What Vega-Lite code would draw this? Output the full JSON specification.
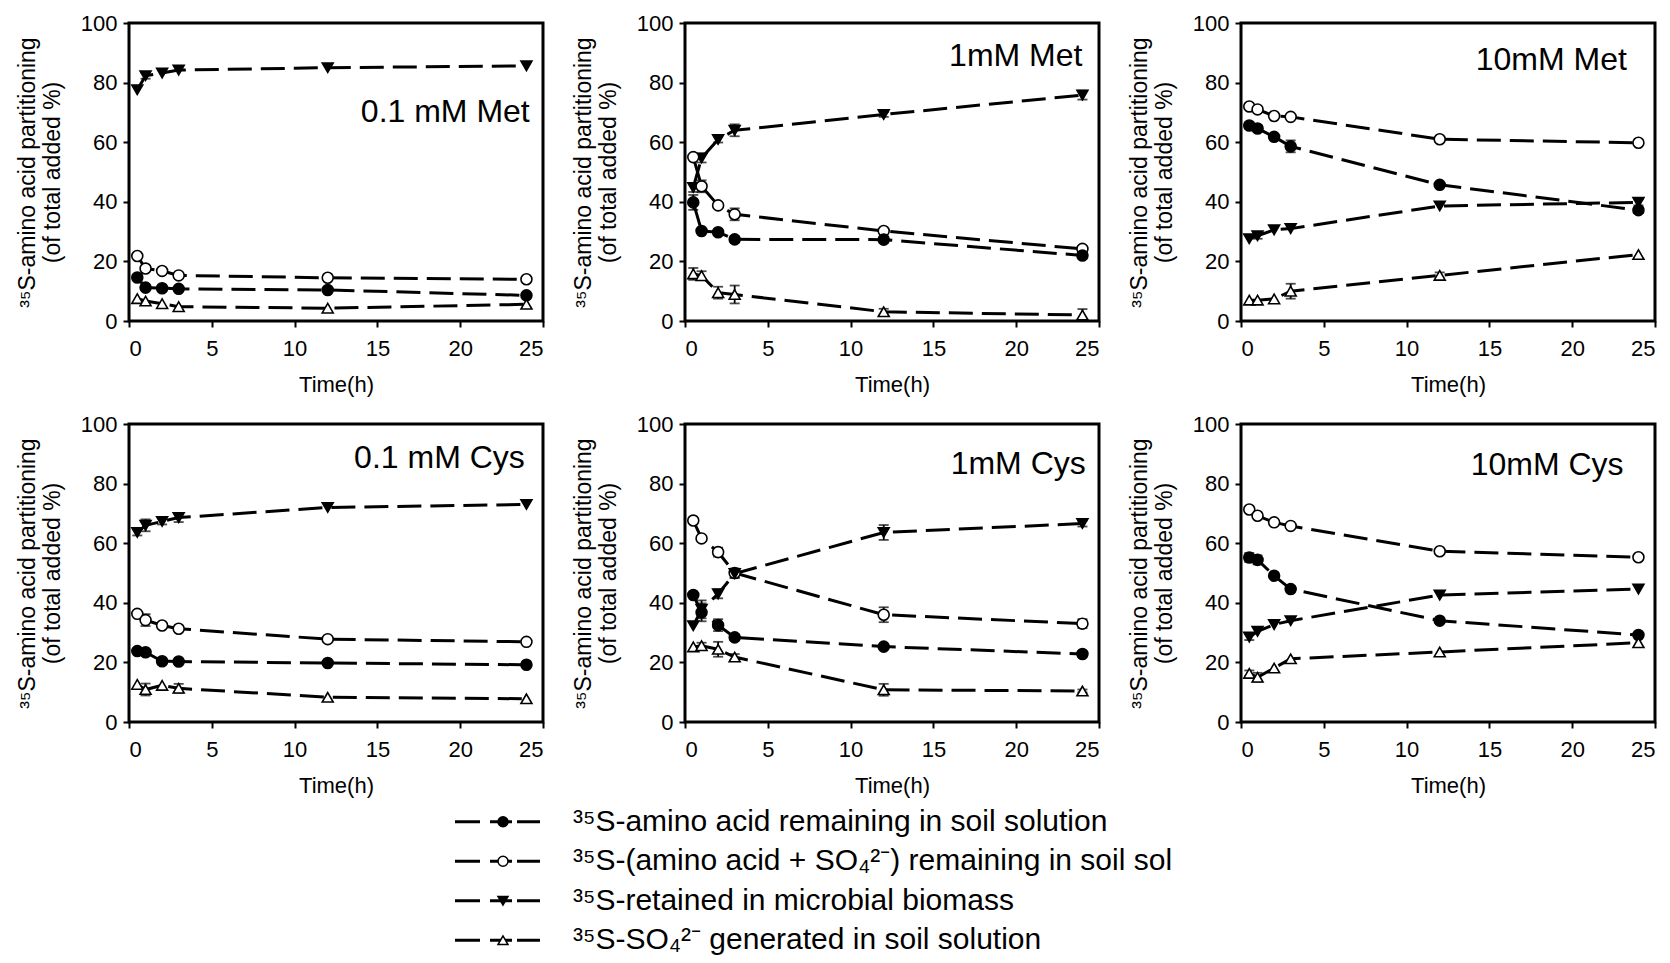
{
  "$schema": "https://vega.github.io/schema/vega-lite/v6.json",
  "background": "white",
  "padding": {"left": 14, "top": 10, "right": 0, "bottom": 0},
  "spacing": 4,
  "config": {
    "font": "Liberation Sans",
    "view": {"stroke": "black", "strokeWidth": 3},
    "header": {"labels": false, "title": null, "labelPadding": 0, "titlePadding": 0},
    "headerFacet": {"labels": false, "title": null, "labelPadding": 0, "titlePadding": 0},
    "axis": {
      "domain": false,
      "grid": false,
      "ticks": true,
      "tickColor": "black",
      "tickWidth": 2,
      "tickSize": 6,
      "labelFontSize": 22,
      "labelColor": "black",
      "titleColor": "black",
      "titleFontWeight": "normal"
    }
  },
  "vconcat": [
    {
      "data": {
        "values": [
          {"panel": "0.1 mM Met", "series": "bio", "t": 0.5, "v": 77.6, "err": 0},
          {"panel": "0.1 mM Met", "series": "bio", "t": 1, "v": 82.3, "err": 1},
          {"panel": "0.1 mM Met", "series": "bio", "t": 2, "v": 83.2, "err": 0},
          {"panel": "0.1 mM Met", "series": "bio", "t": 3, "v": 84.2, "err": 0},
          {"panel": "0.1 mM Met", "series": "bio", "t": 12, "v": 85.0, "err": 0},
          {"panel": "0.1 mM Met", "series": "bio", "t": 24, "v": 85.6, "err": 0},
          {"panel": "0.1 mM Met", "series": "tot", "t": 0.5, "v": 21.8, "err": 0},
          {"panel": "0.1 mM Met", "series": "tot", "t": 1, "v": 17.6, "err": 0},
          {"panel": "0.1 mM Met", "series": "tot", "t": 2, "v": 16.8, "err": 0},
          {"panel": "0.1 mM Met", "series": "tot", "t": 3, "v": 15.3, "err": 0},
          {"panel": "0.1 mM Met", "series": "tot", "t": 12, "v": 14.5, "err": 0},
          {"panel": "0.1 mM Met", "series": "tot", "t": 24, "v": 14.0, "err": 0},
          {"panel": "0.1 mM Met", "series": "aa", "t": 0.5, "v": 14.6, "err": 0},
          {"panel": "0.1 mM Met", "series": "aa", "t": 1, "v": 11.2, "err": 0},
          {"panel": "0.1 mM Met", "series": "aa", "t": 2, "v": 11.0, "err": 0},
          {"panel": "0.1 mM Met", "series": "aa", "t": 3, "v": 10.8, "err": 0},
          {"panel": "0.1 mM Met", "series": "aa", "t": 12, "v": 10.4, "err": 0},
          {"panel": "0.1 mM Met", "series": "aa", "t": 24, "v": 8.6, "err": 0},
          {"panel": "0.1 mM Met", "series": "so4", "t": 0.5, "v": 7.5, "err": 0},
          {"panel": "0.1 mM Met", "series": "so4", "t": 1, "v": 6.7, "err": 0},
          {"panel": "0.1 mM Met", "series": "so4", "t": 2, "v": 5.8, "err": 0},
          {"panel": "0.1 mM Met", "series": "so4", "t": 3, "v": 4.8, "err": 0},
          {"panel": "0.1 mM Met", "series": "so4", "t": 12, "v": 4.3, "err": 0},
          {"panel": "0.1 mM Met", "series": "so4", "t": 24, "v": 5.6, "err": 0},

          {"panel": "1mM Met", "series": "bio", "t": 0.5, "v": 44.8, "err": 1.5},
          {"panel": "1mM Met", "series": "bio", "t": 1, "v": 54.7, "err": 1.5},
          {"panel": "1mM Met", "series": "bio", "t": 2, "v": 60.9, "err": 1},
          {"panel": "1mM Met", "series": "bio", "t": 3, "v": 64.0, "err": 2},
          {"panel": "1mM Met", "series": "bio", "t": 12, "v": 69.3, "err": 0.8},
          {"panel": "1mM Met", "series": "bio", "t": 24, "v": 75.8, "err": 1.5},
          {"panel": "1mM Met", "series": "tot", "t": 0.5, "v": 55.0, "err": 0},
          {"panel": "1mM Met", "series": "tot", "t": 1, "v": 45.2, "err": 2},
          {"panel": "1mM Met", "series": "tot", "t": 2, "v": 38.8, "err": 0},
          {"panel": "1mM Met", "series": "tot", "t": 3, "v": 35.8, "err": 2},
          {"panel": "1mM Met", "series": "tot", "t": 12, "v": 30.2, "err": 0},
          {"panel": "1mM Met", "series": "tot", "t": 24, "v": 24.2, "err": 1},
          {"panel": "1mM Met", "series": "aa", "t": 0.5, "v": 39.8, "err": 2.5},
          {"panel": "1mM Met", "series": "aa", "t": 1, "v": 30.2, "err": 0},
          {"panel": "1mM Met", "series": "aa", "t": 2, "v": 29.8, "err": 0},
          {"panel": "1mM Met", "series": "aa", "t": 3, "v": 27.4, "err": 1},
          {"panel": "1mM Met", "series": "aa", "t": 12, "v": 27.3, "err": 1},
          {"panel": "1mM Met", "series": "aa", "t": 24, "v": 22.0, "err": 1},
          {"panel": "1mM Met", "series": "so4", "t": 0.5, "v": 15.8, "err": 2},
          {"panel": "1mM Met", "series": "so4", "t": 1, "v": 15.2, "err": 1.5},
          {"panel": "1mM Met", "series": "so4", "t": 2, "v": 9.5, "err": 2},
          {"panel": "1mM Met", "series": "so4", "t": 3, "v": 8.9, "err": 3},
          {"panel": "1mM Met", "series": "so4", "t": 12, "v": 3.1, "err": 1},
          {"panel": "1mM Met", "series": "so4", "t": 24, "v": 2.0, "err": 2},

          {"panel": "10mM Met", "series": "tot", "t": 0.5, "v": 72.0, "err": 0},
          {"panel": "10mM Met", "series": "tot", "t": 1, "v": 71.0, "err": 0},
          {"panel": "10mM Met", "series": "tot", "t": 2, "v": 68.8, "err": 0},
          {"panel": "10mM Met", "series": "tot", "t": 3, "v": 68.5, "err": 0},
          {"panel": "10mM Met", "series": "tot", "t": 12, "v": 61.0, "err": 0},
          {"panel": "10mM Met", "series": "tot", "t": 24, "v": 59.8, "err": 0},
          {"panel": "10mM Met", "series": "aa", "t": 0.5, "v": 65.6, "err": 1},
          {"panel": "10mM Met", "series": "aa", "t": 1, "v": 64.6, "err": 1},
          {"panel": "10mM Met", "series": "aa", "t": 2, "v": 61.8, "err": 0.8},
          {"panel": "10mM Met", "series": "aa", "t": 3, "v": 58.6, "err": 2},
          {"panel": "10mM Met", "series": "aa", "t": 12, "v": 45.7, "err": 0},
          {"panel": "10mM Met", "series": "aa", "t": 24, "v": 37.2, "err": 1},
          {"panel": "10mM Met", "series": "bio", "t": 0.5, "v": 27.6, "err": 0},
          {"panel": "10mM Met", "series": "bio", "t": 1, "v": 28.6, "err": 1},
          {"panel": "10mM Met", "series": "bio", "t": 2, "v": 30.6, "err": 0},
          {"panel": "10mM Met", "series": "bio", "t": 3, "v": 31.0, "err": 0},
          {"panel": "10mM Met", "series": "bio", "t": 12, "v": 38.6, "err": 0},
          {"panel": "10mM Met", "series": "bio", "t": 24, "v": 39.8, "err": 1},
          {"panel": "10mM Met", "series": "so4", "t": 0.5, "v": 7.0, "err": 0},
          {"panel": "10mM Met", "series": "so4", "t": 1, "v": 7.0, "err": 0},
          {"panel": "10mM Met", "series": "so4", "t": 2, "v": 7.4, "err": 0},
          {"panel": "10mM Met", "series": "so4", "t": 3, "v": 10.0, "err": 2.5},
          {"panel": "10mM Met", "series": "so4", "t": 12, "v": 15.3, "err": 1},
          {"panel": "10mM Met", "series": "so4", "t": 24, "v": 22.3, "err": 0},

          {"panel": "0.1 mM Cys", "series": "bio", "t": 0.5, "v": 63.6, "err": 1},
          {"panel": "0.1 mM Cys", "series": "bio", "t": 1, "v": 66.0, "err": 2},
          {"panel": "0.1 mM Cys", "series": "bio", "t": 2, "v": 67.3, "err": 1},
          {"panel": "0.1 mM Cys", "series": "bio", "t": 3, "v": 68.6, "err": 1.5},
          {"panel": "0.1 mM Cys", "series": "bio", "t": 12, "v": 72.0, "err": 0},
          {"panel": "0.1 mM Cys", "series": "bio", "t": 24, "v": 73.0, "err": 0},
          {"panel": "0.1 mM Cys", "series": "tot", "t": 0.5, "v": 36.3, "err": 0},
          {"panel": "0.1 mM Cys", "series": "tot", "t": 1, "v": 34.2, "err": 2},
          {"panel": "0.1 mM Cys", "series": "tot", "t": 2, "v": 32.4, "err": 0},
          {"panel": "0.1 mM Cys", "series": "tot", "t": 3, "v": 31.3, "err": 0},
          {"panel": "0.1 mM Cys", "series": "tot", "t": 12, "v": 27.8, "err": 0},
          {"panel": "0.1 mM Cys", "series": "tot", "t": 24, "v": 26.9, "err": 0},
          {"panel": "0.1 mM Cys", "series": "aa", "t": 0.5, "v": 23.8, "err": 0},
          {"panel": "0.1 mM Cys", "series": "aa", "t": 1, "v": 23.4, "err": 0},
          {"panel": "0.1 mM Cys", "series": "aa", "t": 2, "v": 20.4, "err": 0},
          {"panel": "0.1 mM Cys", "series": "aa", "t": 3, "v": 20.3, "err": 0},
          {"panel": "0.1 mM Cys", "series": "aa", "t": 12, "v": 19.8, "err": 0},
          {"panel": "0.1 mM Cys", "series": "aa", "t": 24, "v": 19.2, "err": 0},
          {"panel": "0.1 mM Cys", "series": "so4", "t": 0.5, "v": 12.6, "err": 0},
          {"panel": "0.1 mM Cys", "series": "so4", "t": 1, "v": 10.9, "err": 2},
          {"panel": "0.1 mM Cys", "series": "so4", "t": 2, "v": 12.3, "err": 0},
          {"panel": "0.1 mM Cys", "series": "so4", "t": 3, "v": 11.3, "err": 1.5},
          {"panel": "0.1 mM Cys", "series": "so4", "t": 12, "v": 8.3, "err": 0},
          {"panel": "0.1 mM Cys", "series": "so4", "t": 24, "v": 7.8, "err": 0},

          {"panel": "1mM Cys", "series": "tot", "t": 0.5, "v": 67.6, "err": 0},
          {"panel": "1mM Cys", "series": "tot", "t": 1, "v": 61.6, "err": 0},
          {"panel": "1mM Cys", "series": "tot", "t": 2, "v": 57.0, "err": 1.5},
          {"panel": "1mM Cys", "series": "tot", "t": 3, "v": 50.0, "err": 1.5},
          {"panel": "1mM Cys", "series": "tot", "t": 12, "v": 36.0, "err": 2.5},
          {"panel": "1mM Cys", "series": "tot", "t": 24, "v": 33.0, "err": 1.5},
          {"panel": "1mM Cys", "series": "bio", "t": 0.5, "v": 32.3, "err": 0},
          {"panel": "1mM Cys", "series": "bio", "t": 1, "v": 37.8, "err": 3},
          {"panel": "1mM Cys", "series": "bio", "t": 2, "v": 43.0, "err": 1.5},
          {"panel": "1mM Cys", "series": "bio", "t": 3, "v": 49.8, "err": 1.5},
          {"panel": "1mM Cys", "series": "bio", "t": 12, "v": 63.6, "err": 2.5},
          {"panel": "1mM Cys", "series": "bio", "t": 24, "v": 66.6, "err": 1},
          {"panel": "1mM Cys", "series": "aa", "t": 0.5, "v": 42.6, "err": 0},
          {"panel": "1mM Cys", "series": "aa", "t": 1, "v": 36.8, "err": 3},
          {"panel": "1mM Cys", "series": "aa", "t": 2, "v": 32.5, "err": 2},
          {"panel": "1mM Cys", "series": "aa", "t": 3, "v": 28.4, "err": 1},
          {"panel": "1mM Cys", "series": "aa", "t": 12, "v": 25.3, "err": 0},
          {"panel": "1mM Cys", "series": "aa", "t": 24, "v": 22.8, "err": 1},
          {"panel": "1mM Cys", "series": "so4", "t": 0.5, "v": 25.2, "err": 0},
          {"panel": "1mM Cys", "series": "so4", "t": 1, "v": 25.6, "err": 1},
          {"panel": "1mM Cys", "series": "so4", "t": 2, "v": 24.4, "err": 2.5},
          {"panel": "1mM Cys", "series": "so4", "t": 3, "v": 21.8, "err": 1},
          {"panel": "1mM Cys", "series": "so4", "t": 12, "v": 10.8, "err": 2},
          {"panel": "1mM Cys", "series": "so4", "t": 24, "v": 10.4, "err": 0.5},

          {"panel": "10mM Cys", "series": "tot", "t": 0.5, "v": 71.3, "err": 0},
          {"panel": "10mM Cys", "series": "tot", "t": 1, "v": 69.2, "err": 0},
          {"panel": "10mM Cys", "series": "tot", "t": 2, "v": 67.0, "err": 0},
          {"panel": "10mM Cys", "series": "tot", "t": 3, "v": 65.8, "err": 0},
          {"panel": "10mM Cys", "series": "tot", "t": 12, "v": 57.3, "err": 0},
          {"panel": "10mM Cys", "series": "tot", "t": 24, "v": 55.3, "err": 0},
          {"panel": "10mM Cys", "series": "aa", "t": 0.5, "v": 55.2, "err": 1.5},
          {"panel": "10mM Cys", "series": "aa", "t": 1, "v": 54.4, "err": 1.5},
          {"panel": "10mM Cys", "series": "aa", "t": 2, "v": 49.1, "err": 0},
          {"panel": "10mM Cys", "series": "aa", "t": 3, "v": 44.6, "err": 1},
          {"panel": "10mM Cys", "series": "aa", "t": 12, "v": 34.0, "err": 0},
          {"panel": "10mM Cys", "series": "aa", "t": 24, "v": 29.2, "err": 0},
          {"panel": "10mM Cys", "series": "bio", "t": 0.5, "v": 28.5, "err": 1},
          {"panel": "10mM Cys", "series": "bio", "t": 1, "v": 30.4, "err": 0},
          {"panel": "10mM Cys", "series": "bio", "t": 2, "v": 32.7, "err": 0},
          {"panel": "10mM Cys", "series": "bio", "t": 3, "v": 34.0, "err": 0},
          {"panel": "10mM Cys", "series": "bio", "t": 12, "v": 42.6, "err": 0},
          {"panel": "10mM Cys", "series": "bio", "t": 24, "v": 44.6, "err": 0},
          {"panel": "10mM Cys", "series": "so4", "t": 0.5, "v": 16.3, "err": 1},
          {"panel": "10mM Cys", "series": "so4", "t": 1, "v": 15.0, "err": 1.5},
          {"panel": "10mM Cys", "series": "so4", "t": 2, "v": 18.1, "err": 0},
          {"panel": "10mM Cys", "series": "so4", "t": 3, "v": 21.2, "err": 0},
          {"panel": "10mM Cys", "series": "so4", "t": 12, "v": 23.5, "err": 0},
          {"panel": "10mM Cys", "series": "so4", "t": 24, "v": 26.6, "err": 0},

          {"panel": "0.1 mM Met", "series": "label", "t": 24.2, "v": 70.0, "err": 0},
          {"panel": "1mM Met", "series": "label", "t": 24.0, "v": 89.0, "err": 0},
          {"panel": "10mM Met", "series": "label", "t": 23.3, "v": 87.5, "err": 0},
          {"panel": "0.1 mM Cys", "series": "label", "t": 23.9, "v": 88.5, "err": 0},
          {"panel": "1mM Cys", "series": "label", "t": 24.2, "v": 86.5, "err": 0},
          {"panel": "10mM Cys", "series": "label", "t": 23.1, "v": 86.2, "err": 0}
        ]
      },
      "facet": {
        "field": "panel",
        "type": "nominal",
        "sort": ["0.1 mM Met", "1mM Met", "10mM Met", "0.1 mM Cys", "1mM Cys", "10mM Cys"],
        "header": {"labels": false, "title": null, "labelExpr": "''", "labelFontSize": 0, "labelPadding": 0}
      },
      "columns": 3,
      "bounds": "flush",
      "spacing": {"row": 103, "column": 142},
      "resolve": {"axis": {"x": "independent", "y": "independent"}},
      "spec": {
        "width": 414,
        "height": 298,
        "encoding": {
          "x": {
            "field": "t",
            "type": "quantitative",
            "scale": {"domain": [0, 25], "nice": false},
            "axis": {"values": [0, 5, 10, 15, 20, 25], "title": "Time(h)", "titleFontSize": 22, "titlePadding": 15, "labelPadding": 11}
          },
          "y": {
            "field": "v",
            "type": "quantitative",
            "scale": {"domain": [0, 100], "nice": false},
            "axis": {
              "values": [0, 20, 40, 60, 80, 100],
              "title": ["³⁵S-amino acid partitioning", "(of total added %)"],
              "titleFontSize": 23,
              "titleLineHeight": 25,
              "titlePadding": 16,
              "labelPadding": 6
            }
          }
        },
        "layer": [
          {
            "transform": [{"filter": "datum.series != 'label'"}],
            "mark": {"type": "line", "stroke": "black", "strokeWidth": 3, "strokeDash": [24, 9]},
            "encoding": {"detail": {"field": "series", "type": "nominal"}}
          },
          {
            "transform": [{"filter": "datum.series != 'label' && datum.err > 0"}],
            "mark": {"type": "errorbar", "ticks": {"size": 10}, "thickness": 1.8, "color": "black"},
            "encoding": {"yError": {"field": "err"}}
          },
          {
            "transform": [{"filter": "datum.series != 'label'"}],
            "mark": {"type": "point", "filled": true, "size": 120, "stroke": "black", "strokeWidth": 1.6, "opacity": 1},
            "encoding": {
              "shape": {"field": "series", "type": "nominal", "scale": {"domain": ["aa", "tot", "bio", "so4"], "range": ["circle", "circle", "triangle-down", "triangle-up"]}, "legend": null},
              "fill": {"field": "series", "type": "nominal", "scale": {"domain": ["aa", "tot", "bio", "so4"], "range": ["black", "white", "black", "white"]}, "legend": null}
            }
          },
          {
            "transform": [{"filter": "datum.series == 'label'"}],
            "mark": {"type": "text", "align": "right", "baseline": "middle", "fontSize": 32, "color": "black"},
            "encoding": {"text": {"field": "panel", "type": "nominal"}}
          }
        ]
      }
    },
    {
      "width": 1200,
      "height": 158,
      "view": {"stroke": null},
      "data": {
        "values": [
          {"order": 1, "series": "aa", "label": "³⁵S-amino acid remaining in soil solution"},
          {"order": 2, "series": "tot", "label": "³⁵S-(amino acid + SO₄²⁻) remaining in soil sol"},
          {"order": 3, "series": "bio", "label": "³⁵S-retained in microbial biomass"},
          {"order": 4, "series": "so4", "label": "³⁵S-SO₄²⁻ generated in soil solution"}
        ]
      },
      "encoding": {
        "y": {"field": "order", "type": "ordinal", "axis": null, "scale": {"type": "point", "padding": 0.5}}
      },
      "layer": [
        {
          "mark": {"type": "rule", "stroke": "black", "strokeWidth": 3, "strokeDash": [25, 10, 22, 5, 23]},
          "encoding": {
            "x": {"datum": 326, "type": "quantitative", "scale": {"domain": [0, 1200], "nice": false}, "axis": null},
            "x2": {"datum": 411}
          }
        },
        {
          "mark": {"type": "point", "filled": true, "size": 100, "stroke": "black", "strokeWidth": 1.5, "opacity": 1},
          "encoding": {
            "x": {"datum": 374, "type": "quantitative"},
            "shape": {"field": "series", "type": "nominal", "scale": {"domain": ["aa", "tot", "bio", "so4"], "range": ["circle", "circle", "triangle-down", "triangle-up"]}, "legend": null},
            "fill": {"field": "series", "type": "nominal", "scale": {"domain": ["aa", "tot", "bio", "so4"], "range": ["black", "white", "black", "white"]}, "legend": null}
          }
        },
        {
          "mark": {"type": "text", "align": "left", "baseline": "middle", "fontSize": 30, "color": "black"},
          "encoding": {
            "x": {"datum": 444, "type": "quantitative"},
            "text": {"field": "label", "type": "nominal"}
          }
        }
      ]
    }
  ]
}
